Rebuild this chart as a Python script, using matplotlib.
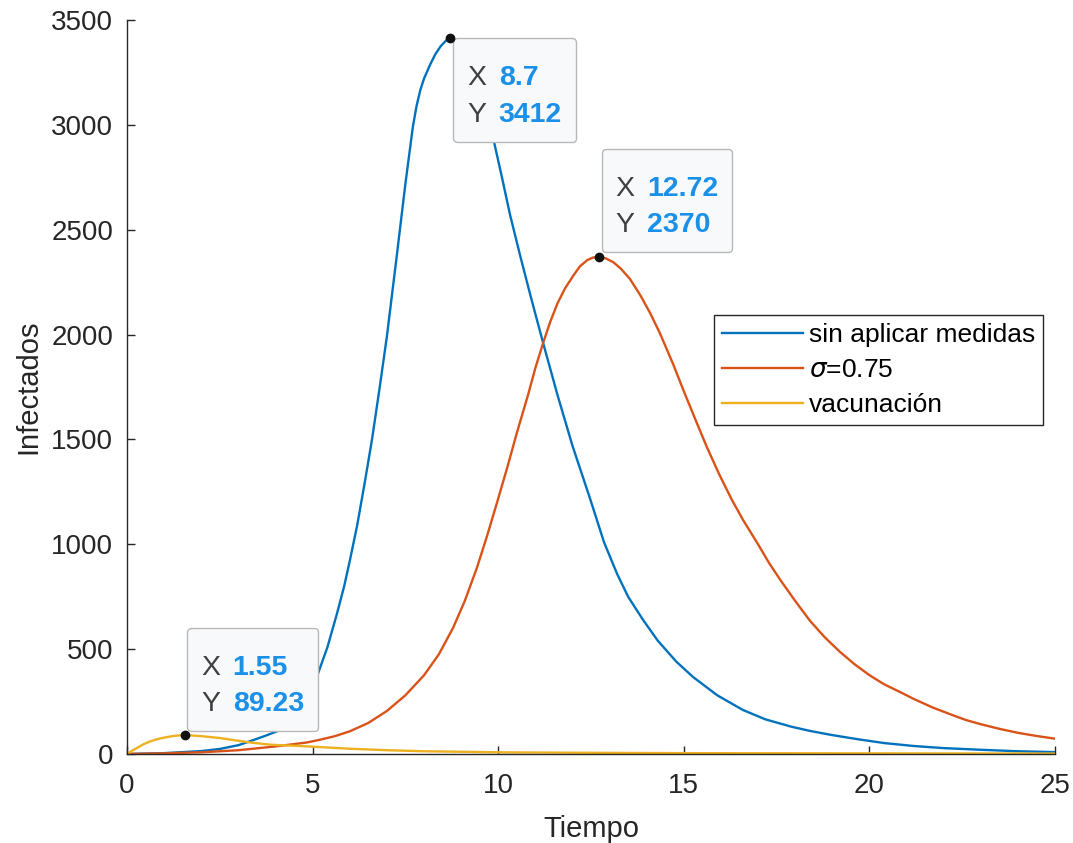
import numpy as np
import matplotlib
matplotlib.use("Agg")
import matplotlib.pyplot as plt
from matplotlib.offsetbox import TextArea, HPacker, VPacker, DrawingArea, AnnotationBbox

plt.rcParams['font.family'] = ['Liberation Sans', 'DejaVu Sans']
plt.rcParams['mathtext.fontset'] = 'dejavusans'

# infectados sin aplicar medidas
t_sin = [0, 1, 2, 2.5, 3, 3.3, 3.7, 4.04, 4.3, 4.6, 4.9, 5.15, 5.4, 5.66, 5.85, 6.0, 6.2,
         6.4, 6.6, 6.8, 7.0, 7.27, 7.5, 7.7, 7.8, 7.9, 8.0, 8.16, 8.3, 8.45, 8.6, 8.7,
         8.8, 9.0, 9.2, 9.4, 9.6, 9.86, 10.1, 10.32, 10.6, 10.9, 11.21, 11.6, 12.0, 12.47,
         12.85, 13.2, 13.5, 13.9, 14.3, 14.8, 15.25, 15.9, 16.59, 17.2, 17.9, 18.4, 19.0,
         19.7, 20.4, 21.2, 22.0, 23.0, 24.0, 25.0]
i_sin = [0, 4, 14, 24, 42, 60, 85, 108, 145, 205, 290, 386, 510, 672, 800, 920, 1090,
         1290, 1500, 1740, 1990, 2380, 2720, 2990, 3090, 3165, 3220, 3285, 3335, 3375, 3403, 3412,
         3408, 3385, 3320, 3230, 3120, 2940, 2750, 2570, 2370, 2165, 1960, 1710, 1470, 1220,
         1010, 860, 750, 640, 540, 440, 367, 280, 210, 165, 130, 110, 90,
         70, 52, 38, 28, 20, 13, 9]

# infectados con sigma = 0.75
t_sig = [0, 1, 2, 3, 4, 4.85, 5.2, 5.6, 6.0, 6.5, 7.0, 7.5, 8.0, 8.4, 8.78, 9.1, 9.43,
         9.7, 9.97, 10.25, 10.5, 10.8, 11.0, 11.21, 11.4, 11.6, 11.8, 12.02, 12.2, 12.4,
         12.55, 12.72, 12.9, 13.1, 13.3, 13.55, 13.82, 14.1, 14.36, 14.71, 15.0, 15.3,
         15.62, 15.95, 16.3, 16.6, 17.0, 17.3, 17.6, 18.0, 18.4, 18.8, 19.2, 19.6, 20.0,
         20.4, 20.82, 21.2, 21.7, 22.2, 22.6, 23.0, 23.5, 24.0, 24.5, 25.0]
i_sig = [0, 3, 8, 18, 36, 55, 68, 85, 108, 148, 205, 280, 375, 475, 600, 730, 890,
         1040, 1200, 1370, 1530, 1710, 1840, 1960, 2060, 2150, 2220, 2280, 2325, 2355,
         2367, 2370, 2363, 2345, 2315, 2265, 2190, 2100, 2005, 1860, 1730, 1600,
         1464, 1335, 1210, 1115, 1000, 910, 830, 730, 635, 556, 488, 428, 376,
         332, 296, 262, 222, 188, 162, 142, 120, 101, 86, 73]

# infectados con vacunacion
t_vac = [0, 0.15, 0.3, 0.45, 0.62, 0.8, 1.0, 1.15, 1.3, 1.45, 1.55, 1.75, 2, 2.5, 3.0,
         3.31, 3.7, 4, 4.66, 5.2, 6, 7, 8, 10, 12, 15, 20, 25]
i_vac = [0, 17, 32, 47, 60, 70, 78, 83, 87, 89, 89.23, 88, 85, 76, 63,
         55, 47, 43, 38, 33, 25, 18, 13, 8, 6, 4, 3, 2]

fig = plt.figure(figsize=(10.73, 8.43), dpi=100)
ax = fig.add_axes([0.1184, 0.1056, 0.8648, 0.8707])

ax.plot(t_sin, i_sin, color='#0072BD', lw=1.7, label='sin aplicar medidas')
ax.plot(t_sig, i_sig, color='#D95319', lw=1.7, label=r'$\sigma$=0.75')
ax.plot(t_vac, i_vac, color='#EDB120', lw=1.7, label='vacunación')

ax.set_xlim(0, 25)
ax.set_ylim(0, 3500)
ax.set_xticks(np.arange(0, 26, 5))
ax.set_yticks(np.arange(0, 3501, 500))
for side in ['top', 'right']:
    ax.spines[side].set_visible(False)
for side in ['left', 'bottom']:
    ax.spines[side].set_color('#262626')
    ax.spines[side].set_linewidth(1)
ax.tick_params(axis='both', direction='in', length=6, width=1, colors='#262626', labelsize=20)
ax.tick_params(axis='x', pad=14)
ax.tick_params(axis='y', pad=10)

ax.set_xlabel('Tiempo', fontsize=21, color='#262626', labelpad=11)
ax.set_ylabel('Infectados', fontsize=21, color='#262626', labelpad=6)

leg = ax.legend(loc='upper right', bbox_to_anchor=(0.987, 0.598), fontsize=19,
                handlelength=3.1, handletextpad=0.2, labelspacing=0.42, borderpad=0.3,
                borderaxespad=0, fancybox=False, framealpha=1)
leg.get_frame().set_edgecolor('#262626')
leg.get_frame().set_linewidth(1)


def datatip(x, y, xs, ys, align, offset):
    rows = [DrawingArea(1, 1.9)]
    for name, val in [('X', xs), ('Y', ys)]:
        rows.append(HPacker(children=[
            TextArea(name, textprops=dict(color='#404040', fontsize=20.5)),
            TextArea(val, textprops=dict(color='#1a90e8', fontsize=20.5, fontweight='bold'))],
            sep=9, align='baseline', pad=0))
    box = VPacker(children=rows, sep=7.5, align='left', pad=0)
    ab = AnnotationBbox(box, (x, y), xybox=offset, xycoords='data', boxcoords='offset points',
                        box_alignment=align, frameon=True, pad=1.0,
                        bboxprops=dict(boxstyle='round,pad=1.0,rounding_size=0.3',
                                       fc='#f8f9fb', ec='#b8b8b8', lw=1))
    ab.set_zorder(5)
    ax.add_artist(ab)
    ax.plot(x, y, 'o', color='#111111', ms=6, zorder=6, clip_on=False)


datatip(8.7, 3412, '8.7', '3412', (0, 1), (12.5, -10))
datatip(12.72, 2370, '12.72', '2370', (0, 0), (12, 13.6))
datatip(1.55, 89.23, '1.55', '89.23', (0, 0), (12, 13))

fig.savefig('out.png', dpi=100)
